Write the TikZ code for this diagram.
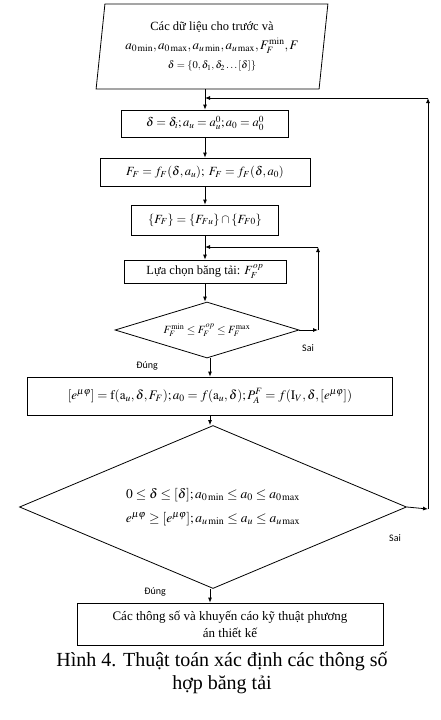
\documentclass[tikz,border=0pt]{standalone}
\usepackage{mathptmx}
\usepackage[no-math]{fontspec}
\setmainfont{Liberation Serif}
\newfontfamily\labelfont{Carlito}
\usetikzlibrary{arrows.meta,positioning,shapes.geometric}
\tikzset{
  algbox/.style={
    draw=black,
    fill=white,
    line width=0.8pt,
    align=center,
    inner sep=2pt,
    font=\fontsize{12.5}{15}\selectfont
  },
  algin/.style={
    draw=black,
    trapezium,
    trapezium left angle=82,
    trapezium right angle=98,
    trapezium stretches=true,
    line width=0.8pt,
    align=center,
    inner sep=1pt,
    font=\fontsize{12.5}{19}\selectfont
  },
  algdia/.style={
    draw=black,
    diamond,
    line width=0.8pt,
    inner sep=0pt,
    align=center,
    font=\fontsize{13.5}{24}\selectfont
  },
  algflow/.style={-{Latex[length=5pt,width=4pt]},line width=0.8pt},
  alglabel/.style={font=\labelfont\fontsize{10}{12}\selectfont,inner sep=0pt}
}

\begin{document}
\begin{tikzpicture}[x=1pt,y=-1pt]
  \useasboundingbox (0,0) rectangle (441,720);
  \node[algin,minimum width=232pt,minimum height=85pt] (data) at (212,46.5)
    {Các dữ liệu cho trước và\\
     {\fontsize{13}{17}\selectfont $a_{0\min},a_{0\max},a_{u\min},a_{u\max},F_F^{\min},F$}\\
     {\fontsize{10.5}{12}\selectfont $\delta=\{0,\delta_1,\delta_2\ldots[\delta]\}$}};
  \node[algbox,minimum width=167pt,minimum height=27pt] (init) at (205,123.5)
    {$\delta=\delta_i;a_u=a_u^0;a_0=a_0^0$};
  \node[algbox,minimum width=210pt,minimum height=28pt] (ffun) at (205,172)
    {$F_F=f_F(\delta,a_u);\ F_F=f_F(\delta,a_0)$};
  \node[algbox,minimum width=147pt,minimum height=30pt] (fset) at (205,220)
    {$\{F_F\}=\{F_{Fu}\}\cap\{F_{F0}\}$};
  \node[algbox,minimum width=162pt,minimum height=23pt] (pick) at (205,271.5)
    {Lựa chọn băng tải: $F_F^{op}$};
  \node[algdia,minimum width=184pt,minimum height=56pt,aspect=3.3,font=\fontsize{11}{13}\selectfont] (chk1) at (207,330)
    {$F_F^{\min}\le F_F^{op}\le F_F^{\max}$};
  \node[algbox,minimum width=365pt,minimum height=38pt,font=\fontsize{13}{15}\selectfont] (calc) at (210,396)
    {$[e^{\mu\varphi}]=\mathrm{f}(\mathrm{a}_u,\delta,F_F);a_0=f(\mathrm{a}_u,\delta);P_A^F=f(\mathrm{I}_V,\delta,[e^{\mu\varphi}])$};
  \node[algdia,minimum width=387pt,minimum height=163pt,aspect=2.37] (chk2) at (213,507)
    {$0\le\delta\le[\delta];a_{0\min}\le a_0\le a_{0\max}$\\
     $e^{\mu\varphi}\ge[e^{\mu\varphi}];a_{u\min}\le a_u\le a_{u\max}$};
  \node[algbox,minimum width=306pt,minimum height=42pt,font=\fontsize{13}{17}\selectfont] (result) at (230,624)
    {Các thông số và khuyến cáo kỹ thuật phương\\án thiết kế};
  \node[align=center,font=\fontsize{20}{23}\selectfont] (cap) at (222,673)
    {Hình 4. Thuật toán xác định các thông số\\hợp băng tải};
  \coordinate (back1a) at (318,330);
  \coordinate (back1b) at (318,247);
  \coordinate (back2a) at (428,509);
  \coordinate (back2b) at (428,98);
  \draw[algflow] (data.south -| init.north) -- (init.north);
  \draw[algflow] (init.south) -- (ffun.north);
  \draw[algflow] (ffun.south) -- (fset.north);
  \draw[algflow] (fset.south) -- (pick.north);
  \draw[algflow] (pick.south) -- (pick.south |- chk1.north);
  \draw[algflow] (chk1.south -| calc.north) -- (calc.north);
  \draw[algflow] (calc.south) -- (calc.south |- chk2.north);
  \draw[algflow] (chk2.south -| calc.south) -- (calc.south |- result.north);
  \draw[algflow] (chk1.east) -- (back1a);
  \draw[algflow] (back1a) -- (back1b);
  \draw[algflow] (back1b) -- (back1b -| pick.north);
  \draw[algflow] (chk2.east) -- (back2a);
  \draw[algflow] (back2a) -- (back2b);
  \draw[algflow] (back2b) -- (back2b -| init.north);
  \node[alglabel] (sai1) at (308,348) {Sai};
  \node[alglabel] (dung1) at (147,366) {Đúng};
  \node[alglabel] (sai2) at (395,538) {Sai};
  \node[alglabel] (dung2) at (155,592) {Đúng};
\end{tikzpicture}
\end{document}
